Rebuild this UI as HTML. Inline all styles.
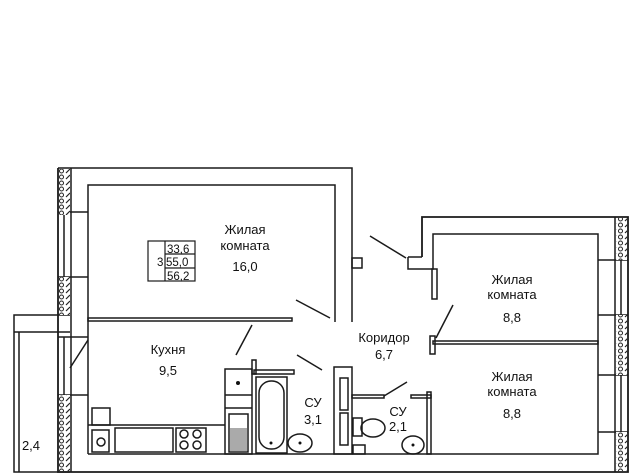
<!DOCTYPE html>
<html><head><meta charset="utf-8"><style>
html,body{margin:0;padding:0;background:#fff;width:640px;height:473px;overflow:hidden}
svg{display:block}
text{font-family:"Liberation Sans",sans-serif;fill:#111}
</style></head><body>
<svg width="640" height="473" viewBox="0 0 640 473" xmlns="http://www.w3.org/2000/svg">
<defs>
<pattern id="h" width="13" height="6" patternUnits="userSpaceOnUse">
<rect width="13" height="6" fill="#fff"/>
<circle cx="9.5" cy="3" r="2" fill="none" stroke="#222" stroke-width="1"/>
<line x1="1" y1="5" x2="5" y2="1" stroke="#222" stroke-width="1.2"/>
</pattern>
</defs>
<g fill="none" stroke="#1a1a1a" stroke-width="1.5">
<polyline points="58,168 352,168 352,322"/>
<polyline points="88,454 88,185 335,185 335,322"/>
<polyline points="422,257 422,217 628,217 628,472 58,472 58,168" stroke-width="1.8"/>
<polyline points="408,257 408,269 433,269 433,234 598,234 598,454 88,454"/>
<line x1="408" y1="257" x2="422" y2="257"/>
<polyline points="70,315 14,315 14,472 70,472"/>
<line x1="14" y1="332" x2="70" y2="332"/>
<line x1="19" y1="332" x2="19" y2="472"/>
<line x1="70" y1="368" x2="88" y2="340"/>
<line x1="71" y1="168" x2="71" y2="472"/>
<line x1="58" y1="212" x2="88" y2="212"/><line x1="58" y1="277" x2="88" y2="277"/>
<line x1="58" y1="337" x2="88" y2="337"/><line x1="58" y1="395" x2="88" y2="395"/>
<line x1="64" y1="212" x2="64" y2="277"/><line x1="64" y1="337" x2="64" y2="395"/>
<line x1="615" y1="217" x2="615" y2="472"/>
<line x1="598" y1="260" x2="628" y2="260"/><line x1="598" y1="315" x2="628" y2="315"/>
<line x1="598" y1="375" x2="628" y2="375"/><line x1="598" y1="432" x2="628" y2="432"/>
<line x1="621" y1="260" x2="621" y2="315"/><line x1="621" y1="375" x2="621" y2="432"/>
<rect x="88" y="318" width="204" height="3"/>
<rect x="433" y="341" width="165" height="3"/>
<rect x="352" y="258" width="10" height="10"/>
<rect x="432" y="269" width="5" height="30"/>
<rect x="430" y="336" width="5" height="18"/>
<rect x="334" y="367" width="18" height="87"/>
<rect x="254" y="370" width="40" height="4"/>
<rect x="252" y="360" width="4" height="14"/>
<rect x="352" y="395" width="32" height="3"/>
<rect x="411" y="395" width="20" height="3"/>
<rect x="427" y="392" width="4" height="62"/>
<rect x="340" y="378" width="8" height="32"/>
<rect x="340" y="413" width="8" height="32"/>
<line x1="296" y1="300" x2="330" y2="318"/>
<line x1="370" y1="236" x2="406" y2="258"/>
<line x1="453" y1="305" x2="436" y2="338"/>
<line x1="252" y1="325" x2="236" y2="355"/>
<line x1="297" y1="355" x2="322" y2="370"/>
<line x1="384" y1="396" x2="407" y2="382"/>
<line x1="88" y1="425" x2="225" y2="425"/>
<rect x="92" y="408" width="18" height="17"/>
<rect x="92" y="430" width="17" height="22"/><circle cx="101" cy="442" r="4"/>
<rect x="115" y="428" width="58" height="24"/>
<rect x="176" y="428" width="30" height="24"/>
<circle cx="184" cy="434" r="4"/><circle cx="197" cy="434" r="4"/>
<circle cx="184" cy="445" r="4"/><circle cx="197" cy="445" r="4"/>
<rect x="225" y="369" width="27" height="85"/>
<line x1="225" y1="395" x2="252" y2="395"/><line x1="225" y1="408" x2="252" y2="408"/>
<rect x="229" y="414" width="19" height="38"/>
<rect x="256" y="377" width="31" height="76"/>
<rect x="259" y="381" width="25" height="68" rx="12"/>
<ellipse cx="300" cy="443" rx="12" ry="9"/>
<ellipse cx="373" cy="428" rx="12" ry="9"/>
<rect x="353" y="418" width="9" height="18"/>
<rect x="353" y="445" width="12" height="9"/>
<ellipse cx="413" cy="445" rx="11" ry="9"/>
<rect x="148" y="241" width="47" height="40" stroke-width="1.2"/>
<line x1="165" y1="241" x2="165" y2="281" stroke-width="1.2"/>
<line x1="165" y1="254" x2="195" y2="254" stroke-width="1.2"/>
<line x1="165" y1="268" x2="195" y2="268" stroke-width="1.2"/>
</g>
<g stroke="none">
<rect x="59" y="169" width="11" height="46" fill="url(#h)"/>
<rect x="59" y="277" width="11" height="38" fill="url(#h)"/>
<rect x="59" y="395" width="11" height="76" fill="url(#h)"/>
<rect x="616" y="218" width="11" height="42" fill="url(#h)"/>
<rect x="616" y="315" width="11" height="60" fill="url(#h)"/>
<rect x="616" y="432" width="11" height="39" fill="url(#h)"/>
<rect x="230" y="428" width="17" height="23" fill="#555" opacity="0.5"/>
<circle cx="238" cy="383" r="2" fill="#111"/>
<circle cx="271" cy="443" r="1.5" fill="#111"/>
<circle cx="300" cy="443" r="1.5" fill="#111"/>
<circle cx="413" cy="445" r="1.5" fill="#111"/>
</g>
<g font-size="13" text-anchor="middle">
<text x="245" y="234">Жилая</text><text x="245" y="250">комната</text><text x="245" y="271">16,0</text>
<text x="512" y="284">Жилая</text><text x="512" y="299">комната</text><text x="512" y="322">8,8</text>
<text x="512" y="381">Жилая</text><text x="512" y="396">комната</text><text x="512" y="418">8,8</text>
<text x="384" y="342">Коридор</text><text x="384" y="359">6,7</text>
<text x="168" y="354">Кухня</text><text x="168" y="375">9,5</text>
<text x="313" y="407">СУ</text><text x="313" y="424">3,1</text>
<text x="398" y="416">СУ</text><text x="398" y="431">2,1</text>
<text x="31" y="450">2,4</text>
</g>
<g font-size="11.5">
<text x="167" y="253">33,6</text><text x="166" y="266">55,0</text><text x="167" y="280">56,2</text>
<text x="157" y="266">3</text>
</g>
</svg>
</body></html>
